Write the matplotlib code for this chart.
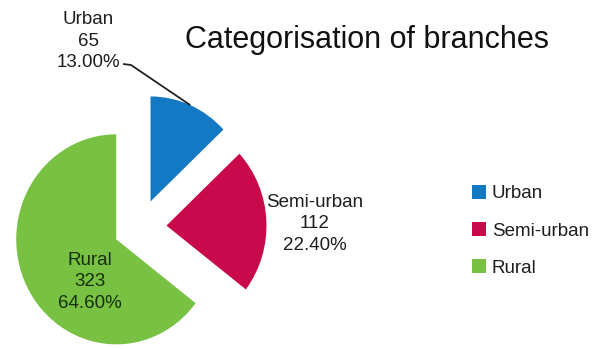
import matplotlib
matplotlib.use("Agg")
import matplotlib.pyplot as plt
import numpy as np

categories = ["Urban", "Semi-urban", "Rural"]
values = [65, 112, 323]
colors = ["#1479c4", "#c8094b", "#79c143"]
title = "Categorisation of branches"

plt.rcParams['font.family'] = ['Liberation Sans', 'DejaVu Sans']

W, H = 595, 349
fig = plt.figure(figsize=(W / 100, H / 100), dpi=100)
ax = fig.add_axes([0, 0, 1, 1])

cx, cy = 140, 227   # pie centre in pixels (from top-left)
SY = 1.05           # vertical stretch of the reference image
R = 100
EXP = 26.5

wedges, _ = ax.pie(values, colors=colors, startangle=90, counterclock=False,
                   radius=R, explode=[EXP] * len(values),
                   wedgeprops=dict(linewidth=0))
ax.set_xlim(-cx, W - cx)
ax.set_ylim(-(H - cy) / SY, cy / SY)
ax.set_aspect('auto')
ax.axis('off')

total = sum(values)
labels = [f"{c}\n{v}\n{100 * v / total:.2f}%" for c, v in zip(categories, values)]

def arc_mid(w):
    t = np.deg2rad(0.5 * (w.theta1 + w.theta2))
    return w.center[0] + w.r * np.cos(t), w.center[1] + w.r * np.sin(t)

def px(x, y):
    return x - cx, (cy - y) / SY

fs = 13.5
ls = 1.38
txtcol = '#1e1e1e'
# Urban label with leader line
ux, uy = arc_mid(wedges[0])
tx, ty = px(88, 41)
ax.text(tx, ty, labels[0], ha='center', va='center', fontsize=fs,
        color=txtcol, linespacing=ls)
ex, ey = px(123, 64)
bx, by = px(131, 65)
ax.plot([ex, bx, ux], [ey, by, uy], color='#222222', lw=1.3,
        solid_capstyle='butt')

# Semi-urban label
sx, sy = px(315, 224)
ax.text(sx, sy, labels[1], ha='center', va='center', fontsize=fs,
        color=txtcol, linespacing=ls)

# Rural label
rx, ry = px(90, 282)
ax.text(rx, ry, labels[2], ha='center', va='center', fontsize=fs,
        color='#16300c', linespacing=ls)

fig.text(367 / W, 1 - 40 / H, title, ha='center', va='center',
         fontsize=22, color='#111111')

leg = ax.legend(wedges, categories, loc='upper left',
                bbox_to_anchor=(472 / W, 1 - 185 / H),
                frameon=False, fontsize=fs, handlelength=0.75,
                handleheight=0.75, handletextpad=0.3, labelspacing=1.05,
                borderaxespad=0, borderpad=0)
for t in leg.get_texts():
    t.set_color(txtcol)

fig.savefig("out.png", dpi=100)
